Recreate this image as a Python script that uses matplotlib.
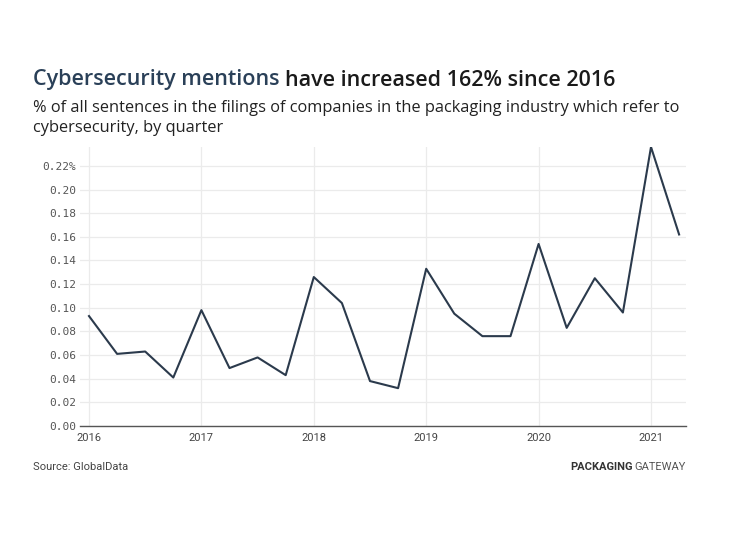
import numpy as np
import matplotlib.pyplot as plt
from matplotlib.ticker import FuncFormatter

quarters = ["2016 Q1", "2016 Q2", "2016 Q3", "2016 Q4",
            "2017 Q1", "2017 Q2", "2017 Q3", "2017 Q4",
            "2018 Q1", "2018 Q2", "2018 Q3", "2018 Q4",
            "2019 Q1", "2019 Q2", "2019 Q3", "2019 Q4",
            "2020 Q1", "2020 Q2", "2020 Q3", "2020 Q4",
            "2021 Q1", "2021 Q2"]
share = [0.093, 0.061, 0.063, 0.041,
         0.098, 0.049, 0.058, 0.043,
         0.126, 0.104, 0.038, 0.032,
         0.133, 0.095, 0.076, 0.076,
         0.154, 0.083, 0.125, 0.096,
         0.236, 0.162]
years = [2016, 2017, 2018, 2019, 2020, 2021]
yticks = [0.00, 0.02, 0.04, 0.06, 0.08, 0.10, 0.12, 0.14, 0.16, 0.18, 0.20, 0.22]

x = np.array([int(q[:4]) + (int(q[-1]) - 1) / 4 for q in quarters])

fig = plt.figure(figsize=(7.35, 5.51), dpi=100)
ax = fig.add_axes([80 / 735, 125 / 551, 606 / 735, 279 / 551])

ax.plot(x, share, color="#2b3a4c", lw=1.5, zorder=3)

ax.set_xlim(2016 - 9 / 112.4, 2016 + 597 / 112.4)
ax.set_ylim(0, 0.236)
ax.set_xticks(years)
ax.set_xticklabels([str(y) for y in years], fontfamily="Roboto", fontsize=8, color="#444444")
ax.set_yticks(yticks)
top = yticks[-1]
ax.yaxis.set_major_formatter(FuncFormatter(
    lambda v, p: f"{v:.2f}%" if abs(v - top) < 1e-9 else f"{v:.2f}"))
for lab in ax.get_yticklabels():
    lab.set_fontfamily("DejaVu Sans Mono")
    lab.set_fontsize(8)
    lab.set_color("#555555")

ax.grid(True, color="#ebebeb", lw=0.9)
ax.set_axisbelow(True)
for s in ["top", "right", "left"]:
    ax.spines[s].set_visible(False)
ax.spines["bottom"].set_color("#555555")
ax.spines["bottom"].set_linewidth(1.0)
ax.tick_params(axis="x", length=0, pad=5)
ax.tick_params(axis="y", length=0, pad=3)

fig.text(33 / 735, 1 - 80 / 551, "Cybersecurity mentions", fontsize=15.5, fontweight="semibold",
         color="#2a4058", fontfamily="Open Sans", va="center", ha="left")
t1 = fig.texts[-1]
fig.canvas.draw()
bb = t1.get_window_extent()
fig.text(bb.x1 / 735 + 0.007, 1 - 80 / 551, "have increased 162% since 2016", fontsize=15.5,
         fontweight="semibold", color="#1a1a1a", fontfamily="Open Sans", va="center", ha="left")
fig.text(33 / 735, 1 - 118 / 551,
         "% of all sentences in the filings of companies in the packaging industry which refer to\ncybersecurity, by quarter",
         fontsize=11.8, color="#222222", fontfamily="Open Sans", va="center", ha="left", linespacing=1.4)

fig.text(33 / 735, 1 - 467 / 551, "Source: GlobalData", fontsize=8, color="#444444",
         fontfamily="Roboto", va="center", ha="left")
g = fig.text(686 / 735, 1 - 467 / 551, "GATEWAY", fontsize=8, color="#555555",
             fontfamily="Roboto", va="center", ha="right")
fig.canvas.draw()
gb = g.get_window_extent()
fig.text(gb.x0 / 735 - 0.002, 1 - 467 / 551, "PACKAGING", fontsize=8, color="#333333",
         fontfamily="Roboto", fontweight="bold", va="center", ha="right")

fig.savefig("out.png", dpi=100)
